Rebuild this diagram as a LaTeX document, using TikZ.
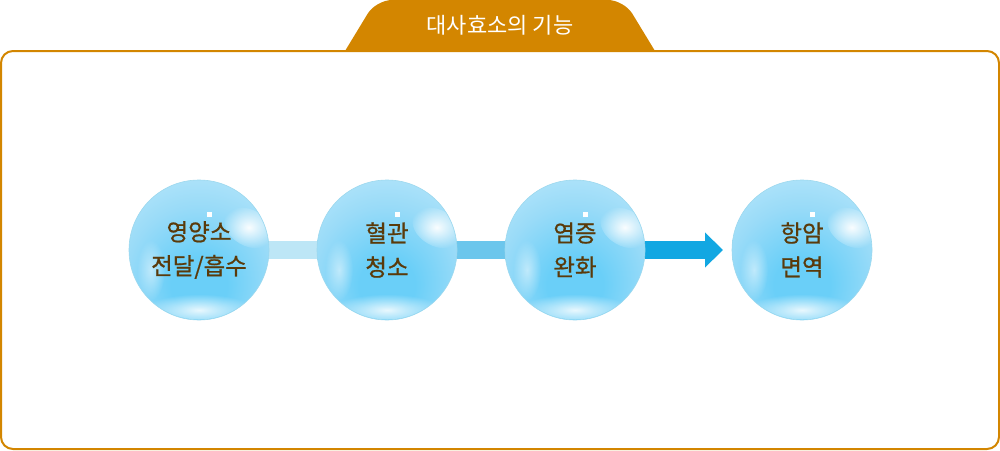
\documentclass[tikz,border=0pt]{standalone}
\usepackage{fontspec}
\setmainfont{Noto Sans CJK KR}
\newfontfamily\lblfont{Noto Sans CJK KR}[FakeBold=0.8]
\usetikzlibrary{arrows.meta,calc,fadings}
\tikzfading[name=softspot, inner color=transparent!0, outer color=transparent!100]
\definecolor{frameor}{HTML}{D38600}
\definecolor{txtbrown}{HTML}{5A3A0A}
\definecolor{bubIn}{HTML}{6ACFF8}
\definecolor{bubMid}{HTML}{99DBF8}
\definecolor{bubMid2}{HTML}{BCE8FA}
\definecolor{bubOut}{HTML}{D3F1FC}
\definecolor{bubEdge}{HTML}{9CD8EE}
\definecolor{barA}{HTML}{BDE6F6}
\definecolor{barB}{HTML}{6CC6EC}
\definecolor{barC}{HTML}{12A7E2}
\pgfdeclareradialshading{bubble}{\pgfpoint{0bp}{-14bp}}{color(0bp)=(bubIn); color(10bp)=(bubIn); color(26bp)=(bubMid); color(42bp)=(bubMid2); color(60bp)=(bubOut); color(100bp)=(bubOut)}
\tikzset{
  bubble/.style={circle, minimum size=140pt, inner sep=0pt, draw=bubEdge, line width=0.6pt,
    shading=bubble},
  lbl/.style={text=txtbrown, font=\lblfont\fontsize{23.5}{34}\selectfont, align=center},
  bar/.style={line width=18pt},
}
\newcommand{\bubbledeco}[1]{%
  \begin{scope}
  \clip (#1) circle (69.5pt);
  \fill[white, path fading=softspot, opacity=0.95, rotate around={-30:($(#1)+(32,-44)$)}] ($(#1)+(32,-44)$) ellipse (26pt and 18pt);
  \fill[white, path fading=softspot, opacity=0.85] ($(#1)+(0,60)$) ellipse (55pt and 16pt);
  \fill[white, path fading=softspot, opacity=0.5] ($(#1)+(-48,20)$) ellipse (14pt and 30pt);
  \end{scope}
  \fill[white] ($(#1)+(8,-38)$) rectangle ($(#1)+(13,-33)$);
}
\begin{document}
\begin{tikzpicture}[x=1pt,y=-1pt]
\useasboundingbox (0,0) rectangle (1000,450);
% frame
\draw[frameor, line width=2pt, rounded corners=12pt] (1,51) rectangle (999,449);
% tab
\fill[frameor] (345,51) [rounded corners=16pt] -- (376,0) -- (624,0) [sharp corners] -- (655,51) -- cycle;
\node[text=white, font=\fontsize{22}{24}\selectfont] (title) at (500,25) {대사효소의 기능};
% bubble centres
\coordinate (c1) at (199,250);
\coordinate (c2) at (387,250);
\coordinate (c3) at (575,250);
\coordinate (c4) at (802,250);
\coordinate (tip) at (723,250);
\draw[bar, barA] (c1) -- (c2);
\draw[bar, barB] (c2) -- (c3);
\draw[barC, line width=18pt, -{Triangle[length=18pt,width=34pt]}] (c3) -- (tip);
% bubbles
\node[bubble] (n1) at (c1) {};
\node[bubble] (n2) at (c2) {};
\node[bubble] (n3) at (c3) {};
\node[bubble] (n4) at (c4) {};
\bubbledeco{c1}\bubbledeco{c2}\bubbledeco{c3}\bubbledeco{c4}
\node[lbl] (t1) at (c1) {영양소\\전달/흡수};
\node[lbl] (t2) at (c2) {혈관\\청소};
\node[lbl] (t3) at (c3) {염증\\완화};
\node[lbl] (t4) at (c4) {항암\\면역};
\end{tikzpicture}
\end{document}
